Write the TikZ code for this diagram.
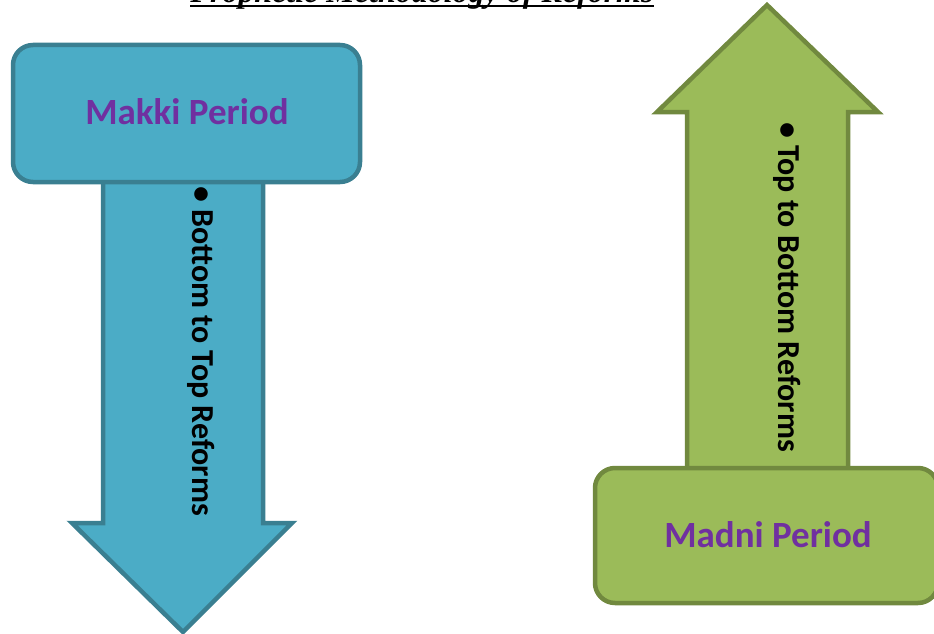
\documentclass[tikz,border=0pt]{standalone}
\usepackage{fontspec}
\setmainfont{Carlito}
\newfontfamily\titlefont{Liberation Serif}
\definecolor{bluefill}{HTML}{4BACC6}
\definecolor{blueline}{HTML}{3A7F91}
\definecolor{greenfill}{HTML}{9BBB59}
\definecolor{greenline}{HTML}{71893F}
\definecolor{purpletext}{HTML}{7030A0}
\begin{document}
\begin{tikzpicture}[x=1pt,y=-1pt,
  shapeblue/.style={fill=bluefill,draw=blueline,line width=4.5pt,line join=miter},
  shapegreen/.style={fill=greenfill,draw=greenline,line width=4.5pt,line join=miter},
  periodtext/.style={font=\bfseries\fontsize{37}{42}\selectfont,text=purpletext},
  bullettext/.style={font=\bfseries\fontsize{32}{36}\selectfont,text=black,rotate=-90,anchor=west,inner sep=0pt}]
\useasboundingbox (0,0) rectangle (934,634);
\clip (0,0) rectangle (934,634);
% title (cut off at top)
\node[font=\titlefont\bfseries\itshape\fontsize{32}{36}\selectfont,anchor=base,inner sep=0pt] (title) at (422,3) {Prophetic Methodology of Reforms};
\draw[line width=2.5pt] ([yshift=-3pt]title.base west) -- ([yshift=-3pt]title.base east);
% blue arrow (down)
\draw[shapeblue] (103,170) -- (103,523) -- (72,523) -- (183,632) -- (292,523) -- (263,523) -- (263,170) -- cycle;
\draw[shapeblue,rounded corners=20pt] (13,45) rectangle (360,182);
\node[periodtext] (makki) at (187,112) {Makki Period};
\node[bullettext] (btt) at (201,186) {• Bottom to Top Reforms};
% green arrow (up)
\draw[shapegreen] (687,480) -- (687,112) -- (657,112) -- (767,5) -- (878,112) -- (848,112) -- (848,480) -- cycle;
\draw[shapegreen,rounded corners=20pt] (595,468) rectangle (938,603);
\node[periodtext] (madni) at (768,535) {Madni Period};
\node[bullettext] (ttb) at (787,122) {• Top to Bottom Reforms};
\end{tikzpicture}
\end{document}
